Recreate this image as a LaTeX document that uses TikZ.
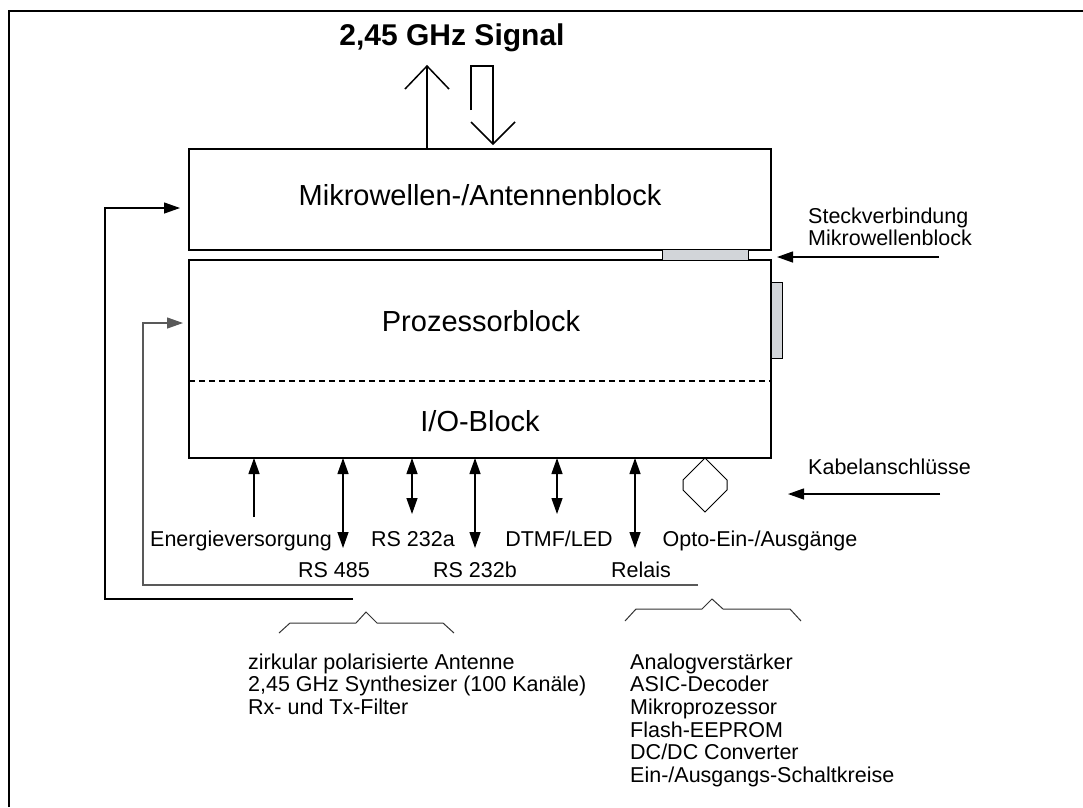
\documentclass[tikz,border=0pt]{standalone}
\usepackage{fontspec}
\setmainfont{Liberation Sans}
\usetikzlibrary{arrows.meta}
\definecolor{conn}{RGB}{210,213,217}
\begin{document}
\begin{tikzpicture}[x=1pt,y=-1pt,
  box/.style={draw,line width=2pt,inner sep=0pt,outer sep=0pt},
  plug/.style={draw,fill=conn,line width=0.9pt,inner sep=0pt,outer sep=0pt},
  lbl/.style={font=\fontsize{21.5}{22.5}\selectfont,inner sep=0pt,anchor=base},
  lbll/.style={lbl,anchor=base west},
  big/.style={font=\fontsize{29}{30}\selectfont,inner sep=0pt,anchor=base},
  ttl/.style={font=\bfseries\fontsize{30}{30}\selectfont,inner sep=0pt,anchor=base},
  tip/.style={-{Triangle[length=16pt,width=11pt]}},
  ar/.style={line width=1.3pt,tip},
  dar/.style={line width=1.3pt,{Triangle[length=16pt,width=11pt]}-{Triangle[length=16pt,width=11pt]}},
  sig/.style={line width=1.5pt},
  brace/.style={line width=1pt,black!80}
]
\useasboundingbox (0,0) rectangle (1083,807);
% frame
\draw[line width=2pt] (9,807) -- (9,11) -- (1083,11);

% blocks
\node[box,minimum width=582pt,minimum height=101pt] (mw) at (480,199.5) {};
\node[box,minimum width=582pt,minimum height=198pt] (pb) at (480,359) {};
\coordinate (dsh) at (0,381);
\draw[line width=1.3pt,dash pattern=on 6pt off 4pt] (pb.west |- dsh) -- (pb.east |- dsh);

\node[big] (mwt) at (480,205.5) {Mikrowellen-/Antennenblock};
\node[big] (pbt) at (481,331) {Prozessorblock};
\node[big] (iot) at (480,431) {I/O-Block};

% plug connectors
\node[plug,minimum width=86pt,minimum height=11pt] (st1) at (705,254.5) {};
\node[plug,minimum width=11pt,minimum height=76pt] (st2) at (776.5,320) {};

% title and signal arrows
\node[ttl] (title) at (452,45) {2,45 GHz Signal};
\coordinate (upx) at (427,0);
\draw[sig] (upx |- mw.north) -- (427,66);
\draw[sig] (405,89) -- (427,66) -- (449,89);
\draw[sig] (471,110) -- (471,66) -- (493,66) -- (493,144);
\draw[sig] (471,122) -- (493,144) -- (515,122);

% Steckverbindung
\node[lbll] (sv1) at (808,223) {Steckverbindung};
\node[lbll] (sv2) at (808,245) {Mikrowellenblock};
\coordinate (svs) at (939,257);
\draw[ar] (svs) -- ([xshift=6pt]pb.east |- svs);

% Kabelanschluesse
\node[lbll] (ka) at (808,474) {Kabelanschlüsse};
\coordinate (kas) at (940,494);
\draw[ar] (kas) -- (788,494);

% bottom arrows
\coordinate (en) at (254,517);
\draw[ar] (en) -- (en |- pb.south);
\coordinate (r485) at (343,548);
\draw[dar] (r485) -- (r485 |- pb.south);
\coordinate (r232a) at (412,514);
\draw[dar] (r232a) -- (r232a |- pb.south);
\coordinate (r232b) at (475,548);
\draw[dar] (r232b) -- (r232b |- pb.south);
\coordinate (dtmf) at (557,514);
\draw[dar] (dtmf) -- (dtmf |- pb.south);
\coordinate (rel) at (635,548);
\draw[dar] (rel) -- (rel |- pb.south);

% opto connector
\draw[line width=1pt] (705,458) -- (727,480) -- (727,490) -- (705,512) -- (683,490) -- (683,480) -- cycle;

% labels
\node[lbl] (l1) at (241,546) {Energieversorgung};
\node[lbl] (l2) at (334,577) {RS 485};
\node[lbl] (l3) at (413,546) {RS 232a};
\node[lbl] (l4) at (475,577) {RS 232b};
\node[lbl] (l5) at (559,546) {DTMF/LED};
\node[lbl] (l6) at (641,577) {Relais};
\node[lbl] (l7) at (760,546) {Opto-Ein-/Ausgänge};

% feedback lines
\coordinate (fo) at (353,599);
\coordinate (fo1) at (105,208);
\draw[line width=1.3pt,tip] (fo) -| (fo1) -- ([xshift=-9pt]mw.west |- fo1);
\coordinate (fi) at (698,585);
\coordinate (fi1) at (143,323);
\draw[line width=1.3pt,black!65,tip] (fi) -| (fi1) -- ([xshift=-6pt]pb.west |- fi1);

% braces
\draw[brace] (279,633) -- (290,623) -- (356,623) -- (366,612) -- (377,623) -- (443,623) -- (454,633);
\draw[brace] (625,621) -- (636,609) -- (702,609) -- (712,599) -- (723,609) -- (790,609) -- (801,621);

% lists
\node[lbll] (a1) at (248,669) {zirkular polarisierte Antenne};
\node[lbll] (a2) at (248,691.5) {2,45 GHz Synthesizer (100 Kanäle)};
\node[lbll] (a3) at (248,714) {Rx- und Tx-Filter};

\node[lbll] (b1) at (630,669) {Analogverstärker};
\node[lbll] (b2) at (630,691.5) {ASIC-Decoder};
\node[lbll] (b3) at (630,714) {Mikroprozessor};
\node[lbll] (b4) at (630,737) {Flash-EEPROM};
\node[lbll] (b5) at (630,759.5) {DC/DC Converter};
\node[lbll] (b6) at (630,782) {Ein-/Ausgangs-Schaltkreise};
\end{tikzpicture}
\end{document}
